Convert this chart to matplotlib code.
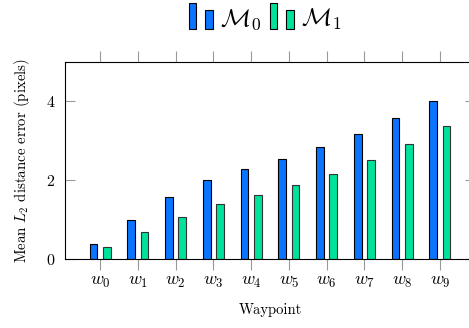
import numpy as np
import matplotlib
matplotlib.use("Agg")
import matplotlib.pyplot as plt
from matplotlib.patches import Rectangle
from matplotlib.legend_handler import HandlerBase

plt.rcParams['font.family'] = 'serif'
plt.rcParams['font.serif'] = ['cmr10', 'DejaVu Serif']
plt.rcParams['mathtext.fontset'] = 'cm'
plt.rcParams['axes.formatter.use_mathtext'] = True

waypoints = [r'$w_{%d}$' % i for i in range(10)]
m0_err = [0.38, 0.99, 1.57, 2.00, 2.29, 2.54, 2.83, 3.18, 3.57, 4.01]
m1_err = [0.30, 0.69, 1.07, 1.39, 1.62, 1.87, 2.16, 2.52, 2.93, 3.37]
series_names = [r'$\mathcal{M}_0$', r'$\mathcal{M}_1$']

blue = '#0a74ff'
green = '#00e29c'


class TwoBars(HandlerBase):
    # pgfplots style ybar legend image: two small bars
    def create_artists(self, legend, orig_handle, xdescent, ydescent,
                       width, height, fontsize, trans):
        fc = orig_handle.get_facecolor()
        w = width * 0.3
        r1 = Rectangle((-xdescent, -ydescent - height * 0.2), w, height * 1.45,
                       facecolor=fc, edgecolor='black', lw=0.8, transform=trans)
        r2 = Rectangle((-xdescent + width * 0.66, -ydescent - height * 0.2), w, height * 1.05,
                       facecolor=fc, edgecolor='black', lw=0.8, transform=trans)
        return [r1, r2]


fig = plt.figure(figsize=(4.69, 3.28), dpi=100)
ax = fig.add_axes([65 / 469, 1 - 259 / 328, 410 / 469, 197 / 328])

x = np.arange(len(waypoints))
bw = 0.21
b0 = ax.bar(x - 0.175, m0_err, bw, color=blue, edgecolor='black', lw=0.8)
b1 = ax.bar(x + 0.175, m1_err, bw, color=green, edgecolor='#333333', lw=0.8)

ax.set_xlim(-0.93, 9.93)
ax.set_ylim(0, 5)
ax.set_xticks(x)
ax.set_xticklabels(waypoints, fontsize=13)
ax.set_yticks([0, 2, 4])
ax.tick_params(axis='y', labelsize=11.5)

ax.tick_params(axis='x', direction='out', top=True, bottom=True,
               length=8, width=0.8, color='0.6', pad=3)
ax.tick_params(axis='y', direction='in', left=True, right=True,
               length=7, width=0.8, color='0.6', pad=7)
for s in ax.spines.values():
    s.set_linewidth(0.8)

ax.set_xlabel('Waypoint', fontsize=10.5, labelpad=10)
ax.set_ylabel(r'Mean $L_2$ distance error (pixels)', fontsize=10.7, labelpad=10)

fig.legend([b0.patches[0], b1.patches[0]], series_names,
           handler_map={Rectangle: TwoBars()},
           loc='center', bbox_to_anchor=(265 / 469, 1 - 19 / 328),
           ncol=2, frameon=False, fontsize=18, handlelength=1.0,
           handletextpad=0.25, columnspacing=0.35)

fig.savefig('out.png', dpi=100)
